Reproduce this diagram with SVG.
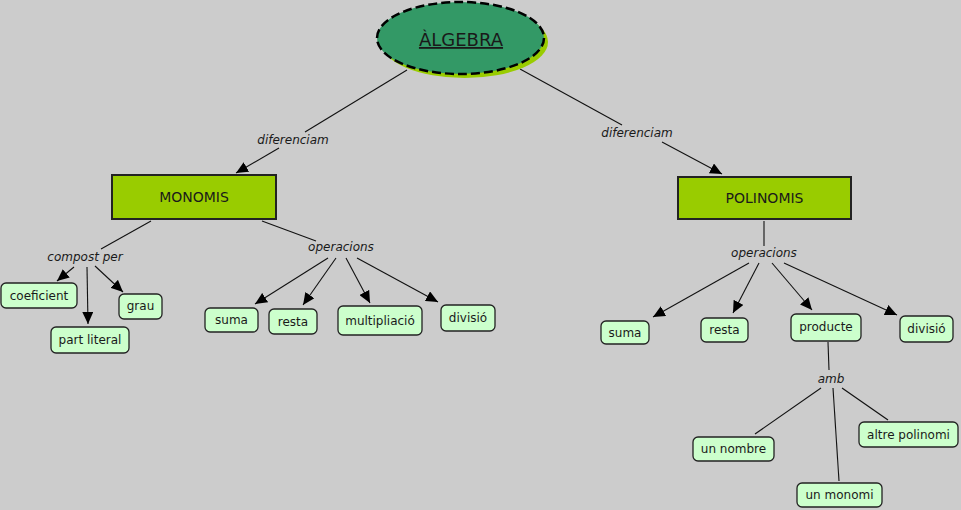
<svg xmlns="http://www.w3.org/2000/svg" width="961" height="510" viewBox="0 0 961 510">
<style>
.bg{fill:#cccccc}
.n{fill:#ccffcc;stroke:#222;stroke-width:1.3}
.b{fill:#99cc00;stroke:#222;stroke-width:2}
.t{font-family:"DejaVu Sans",Verdana,sans-serif;font-size:12px;fill:#1a1a1a;text-anchor:middle}
.bt{font-size:14px}
.l{font-family:"DejaVu Sans",Verdana,sans-serif;font-size:12px;font-style:italic;fill:#1a1a1a;text-anchor:middle}
.c{stroke:#111;stroke-width:1.1;fill:none}
.a{marker-end:url(#arr)}
</style>
<defs>
<marker id="arr" viewBox="0 0 12 11" refX="12" refY="5.5" markerWidth="12" markerHeight="11" markerUnits="userSpaceOnUse" orient="auto">
<path d="M0,0 L12,5.5 L0,11 Z" fill="#000"/>
</marker>
</defs>
<rect class="bg" x="0" y="0" width="961" height="510"/>
<g id="connectors">
<line class="c" x1="407" y1="70" x2="305" y2="132"/>
<line class="c a" x1="279" y1="148" x2="236" y2="173"/>
<line class="c" x1="520" y1="69" x2="622" y2="125"/>
<line class="c a" x1="662" y1="142" x2="722" y2="174"/>
<line class="c" x1="151" y1="221" x2="101" y2="249"/>
<line class="c a" x1="74" y1="267" x2="57" y2="281"/>
<line class="c a" x1="87" y1="267" x2="88" y2="324"/>
<line class="c a" x1="95" y1="266" x2="123" y2="292"/>
<line class="c" x1="262" y1="221" x2="316" y2="241"/>
<line class="c a" x1="328" y1="258" x2="255" y2="304"/>
<line class="c a" x1="336" y1="258" x2="303" y2="305"/>
<line class="c a" x1="346" y1="258" x2="370" y2="303"/>
<line class="c a" x1="357" y1="258" x2="438" y2="302"/>
<line class="c" x1="764" y1="221" x2="764" y2="246"/>
<line class="c a" x1="749" y1="263" x2="653" y2="317"/>
<line class="c a" x1="759" y1="263" x2="733" y2="313"/>
<line class="c a" x1="772" y1="263" x2="812" y2="310"/>
<line class="c a" x1="784" y1="263" x2="897" y2="315"/>
<line class="c" x1="828" y1="342" x2="829" y2="370"/>
<line class="c" x1="821" y1="388" x2="755" y2="434"/>
<line class="c" x1="833" y1="388" x2="839" y2="481"/>
<line class="c" x1="842" y1="388" x2="888" y2="420"/>
<text class="l" x="293" y="144">diferenciam</text>
<text class="l" x="637" y="137">diferenciam</text>
<text class="l" x="85" y="261">compost per</text>
<text class="l" x="341" y="251">operacions</text>
<text class="l" x="764" y="257">operacions</text>
<text class="l" x="831" y="383">amb</text>
</g>
<g id="algebra">
<ellipse cx="464.5" cy="42" rx="83.5" ry="36" fill="#99cc00"/>
<ellipse cx="460.5" cy="38" rx="83.5" ry="36" fill="#339966" stroke="#000" stroke-width="2.5" stroke-dasharray="9,4"/>
<text class="t" x="461" y="46" style="font-size:18px" text-decoration="underline">ÀLGEBRA</text>
</g>
<g id="monomis"><rect class="b" x="112" y="175" width="164" height="44"/><text class="t bt" x="194" y="202">MONOMIS</text></g>
<g id="polinomis"><rect class="b" x="678" y="177" width="173" height="42"/><text class="t bt" x="764.5" y="203">POLINOMIS</text></g>
<g id="coeficient"><rect class="n" x="1" y="283" width="76" height="25" rx="5"/><text class="t" x="39" y="300">coeficient</text></g>
<g id="grau"><rect class="n" x="119" y="294" width="43" height="25" rx="5"/><text class="t" x="140.5" y="310">grau</text></g>
<g id="part-literal"><rect class="n" x="51" y="327" width="78" height="26" rx="5"/><text class="t" x="90" y="344">part literal</text></g>
<g id="suma-m"><rect class="n" x="205" y="308" width="53" height="24" rx="5"/><text class="t" x="231.5" y="324">suma</text></g>
<g id="resta-m"><rect class="n" x="269" y="309" width="48" height="25" rx="5"/><text class="t" x="293" y="326">resta</text></g>
<g id="multipliacio"><rect class="n" x="338" y="306" width="84" height="29" rx="5"/><text class="t" x="380" y="325">multipliació</text></g>
<g id="divisio-m"><rect class="n" x="441" y="305" width="54" height="26" rx="5"/><text class="t" x="468" y="322">divisió</text></g>
<g id="suma-p"><rect class="n" x="601" y="321" width="48" height="23" rx="5"/><text class="t" x="625" y="337">suma</text></g>
<g id="resta-p"><rect class="n" x="701" y="318" width="47" height="24" rx="5"/><text class="t" x="724.5" y="334">resta</text></g>
<g id="producte"><rect class="n" x="791" y="314" width="70" height="27" rx="5"/><text class="t" x="826" y="331">producte</text></g>
<g id="divisio-p"><rect class="n" x="900" y="316" width="53" height="26" rx="5"/><text class="t" x="926.5" y="333">divisió</text></g>
<g id="un-nombre"><rect class="n" x="693" y="437" width="81" height="24" rx="5"/><text class="t" x="733.5" y="453">un nombre</text></g>
<g id="altre-polinomi"><rect class="n" x="859" y="422" width="99" height="25" rx="5"/><text class="t" x="908.5" y="439">altre polinomi</text></g>
<g id="un-monomi"><rect class="n" x="797" y="483" width="85" height="24" rx="5"/><text class="t" x="839.5" y="499">un monomi</text></g>
</svg>
